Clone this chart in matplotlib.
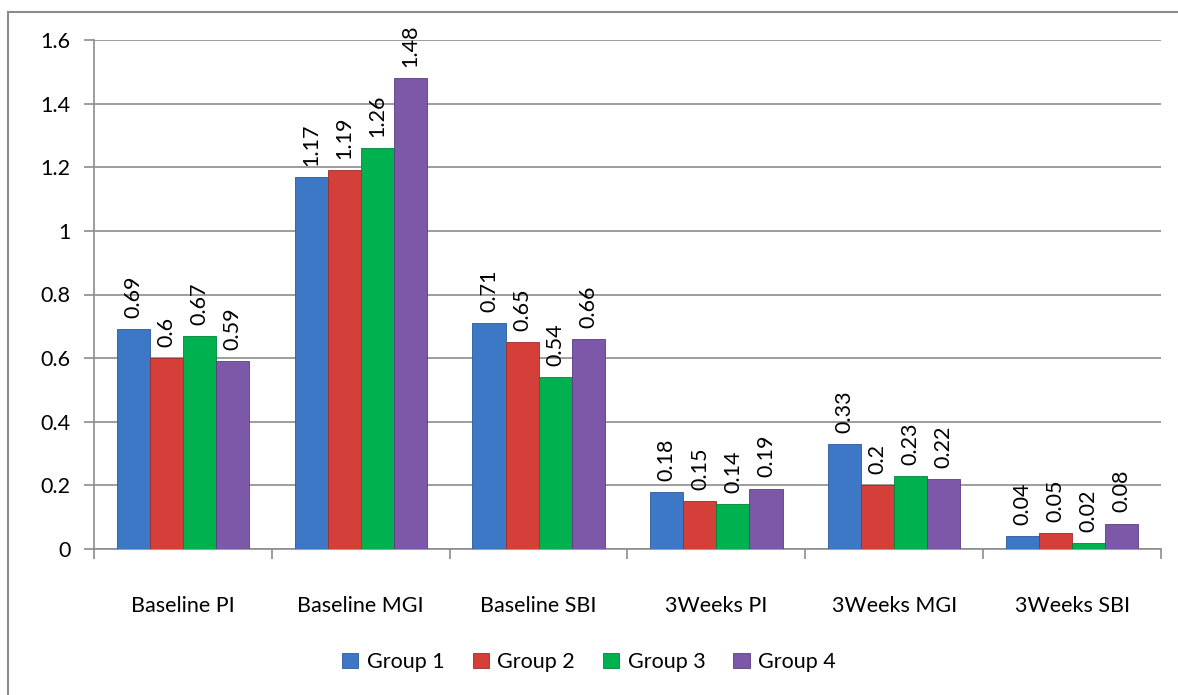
import matplotlib
matplotlib.use("Agg")
import matplotlib.pyplot as plt
import numpy as np
from matplotlib.lines import Line2D

categories = ["Baseline PI", "Baseline MGI", "Baseline SBI", "3Weeks PI", "3Weeks MGI", "3Weeks SBI"]
group_names = ["Group 1", "Group 2", "Group 3", "Group 4"]
group1 = [0.69, 1.17, 0.71, 0.18, 0.33, 0.04]
group2 = [0.60, 1.19, 0.65, 0.15, 0.20, 0.05]
group3 = [0.67, 1.26, 0.54, 0.14, 0.23, 0.02]
group4 = [0.59, 1.48, 0.66, 0.19, 0.22, 0.08]
series = [group1, group2, group3, group4]
colors = ["#3d78c6", "#d43f3a", "#00b24f", "#7d58a8"]
edges = ["#2a5a99", "#9e2b27", "#00843a", "#5b3d80"]
yticks = [0, 0.2, 0.4, 0.6, 0.8, 1, 1.2, 1.4, 1.6]

plt.rcParams['font.family'] = ['Lato', 'DejaVu Sans']
FS = 15.5

fig = plt.figure(figsize=(11.78, 6.95), dpi=100)
# outer chart border (top and left visible, rest off-canvas)
fig.add_artist(Line2D([8/1178, 1.0], [1 - 12/695, 1 - 12/695], transform=fig.transFigure,
                      color="#8c8c8c", linewidth=1.5))
fig.add_artist(Line2D([8/1178, 8/1178], [0.0, 1 - 12/695], transform=fig.transFigure,
                      color="#8c8c8c", linewidth=1.5))

ax = fig.add_axes([94/1178, 1 - 549/695, (1161-94)/1178, (549-40)/695])

x = np.arange(len(categories))
bw = 0.186
for i, (vals, c, ec, name) in enumerate(zip(series, colors, edges, group_names)):
    pos = x + (i - 1.5) * bw
    ax.bar(pos, vals, width=bw, color=c, edgecolor=ec, linewidth=0.6, label=name, zorder=3)
    for p, v in zip(pos, vals):
        ax.text(p, v + 0.035, f"{v:g}", rotation=90, ha="center", va="bottom",
                fontsize=FS, color="black", zorder=4)

ax.set_xlim(-0.5, len(categories) - 0.5)
ax.set_ylim(0, 1.6)
ax.set_yticks(yticks)
ax.set_yticklabels([f"{t:g}" for t in yticks], fontsize=FS)
ax.yaxis.grid(True, color="#8c8c8c", linewidth=1.2, zorder=0)
ax.set_axisbelow(True)
ax.tick_params(axis="y", length=7, color="#8c8c8c", width=1.2, pad=10)

ax.set_xticks(x)
ax.set_xticklabels(categories, fontsize=FS)
ax.tick_params(axis="x", length=0, pad=34)
ax.set_xticks(np.arange(-0.5, len(categories)), minor=True)
ax.tick_params(axis="x", which="minor", length=7, color="#8c8c8c", width=1.2)

for s in ["top", "right"]:
    ax.spines[s].set_visible(False)
for s in ["left", "bottom"]:
    ax.spines[s].set_color("#8c8c8c")
    ax.spines[s].set_linewidth(1.2)

ax.legend(loc="center", bbox_to_anchor=(0.5, 1 - 662/695), bbox_transform=fig.transFigure,
          ncol=4, frameon=False, fontsize=FS, handlelength=0.75, handleheight=0.75,
          handletextpad=0.4, columnspacing=1.3)

fig.savefig("out.png", dpi=100)
